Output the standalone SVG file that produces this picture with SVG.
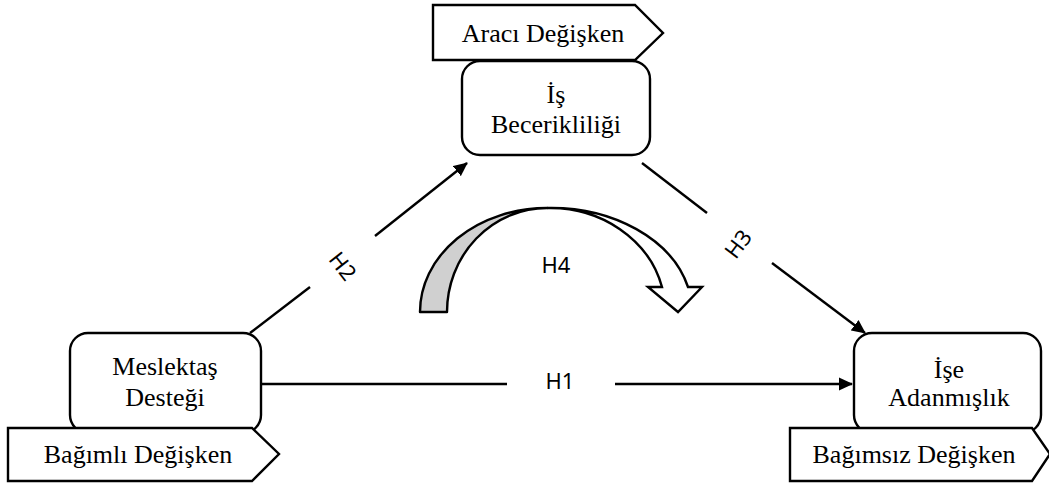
<svg xmlns="http://www.w3.org/2000/svg" width="1049" height="486" viewBox="0 0 1049 486">
<defs>
<marker id="ah" markerWidth="14" markerHeight="14" viewBox="0 0 14 14" refX="13" refY="7" orient="auto" markerUnits="userSpaceOnUse">
<path d="M0,0.5 L14,7 L0,13.5 Z" fill="#000"/>
</marker>
<style>
.box{fill:#fff;stroke:#000;stroke-width:2.4}
.tag{fill:#fff;stroke:#000;stroke-width:2.4}
.t{font-family:"Liberation Serif","Times New Roman",serif;font-size:26px;fill:#000;text-anchor:middle}
.lbl{font-family:"Noto Sans","DejaVu Sans",sans-serif;font-size:22px;fill:#000;text-anchor:middle}
.ln{stroke:#000;stroke-width:2.4;fill:none}
</style>
</defs>
<rect width="1049" height="486" fill="#fff"/>
<g id="connectors">
<line class="ln" x1="261" y1="384" x2="507" y2="384"/>
<line class="ln" x1="615" y1="384" x2="852" y2="384" marker-end="url(#ah)"/>
<line class="ln" x1="250" y1="333" x2="310" y2="287"/>
<line class="ln" x1="375" y1="236" x2="467" y2="163" marker-end="url(#ah)"/>
<line class="ln" x1="642" y1="163" x2="707" y2="213"/>
<line class="ln" x1="772" y1="263" x2="865" y2="333" marker-end="url(#ah)"/>
<text class="lbl" x="560" y="389">H1</text>
<text class="lbl" transform="translate(343,266) rotate(52)" x="0" y="8">H2</text>
<text class="lbl" transform="translate(738,244) rotate(-53)" x="0" y="8">H3</text>
<g id="h4">
<path d="M420,312 A127,104 0 0 1 547,208 A100,104 0 0 0 447,312 Z" fill="#d0d0d0" stroke="#000" stroke-width="2.4" stroke-linejoin="round"/>
<path d="M547,208 A141,104 0 0 1 688,287 L702,287 L678,312 L648,287 L662,287 A115,104 0 0 0 547,208 Z" fill="#fff" stroke="#000" stroke-width="2.4" stroke-linejoin="miter"/>
<text class="lbl" x="556" y="273">H4</text>
</g>
</g>
<g id="node-becerikliligi">
<rect class="box" x="462" y="61" width="188" height="94" rx="18"/>
<text class="t" x="556" y="103">İş</text>
<text class="t" x="556" y="133">Becerikliliği</text>
</g>
<g id="tag-araci">
<polygon class="tag" points="433,5 635,5 663,33 635,60 433,60"/>
<text class="t" x="543" y="42">Aracı Değişken</text>
</g>
<g id="node-meslektas">
<rect class="box" x="70" y="333" width="191" height="100" rx="18"/>
<text class="t" x="165" y="375">Meslektaş</text>
<text class="t" x="165" y="406">Desteği</text>
</g>
<g id="tag-bagimli">
<polygon class="tag" points="8,428 252,428 279,454 252,481 8,481"/>
<text class="t" x="138" y="463">Bağımlı Değişken</text>
</g>
<g id="node-ise">
<rect class="box" x="854" y="333" width="187" height="100" rx="18"/>
<text class="t" x="949" y="378">İşe</text>
<text class="t" x="949" y="406">Adanmışlık</text>
</g>
<g id="tag-bagimsiz">
<polygon class="tag" points="790,428 1032,428 1050,454 1032,481 790,481"/>
<text class="t" x="914" y="463">Bağımsız Değişken</text>
</g>
</svg>
